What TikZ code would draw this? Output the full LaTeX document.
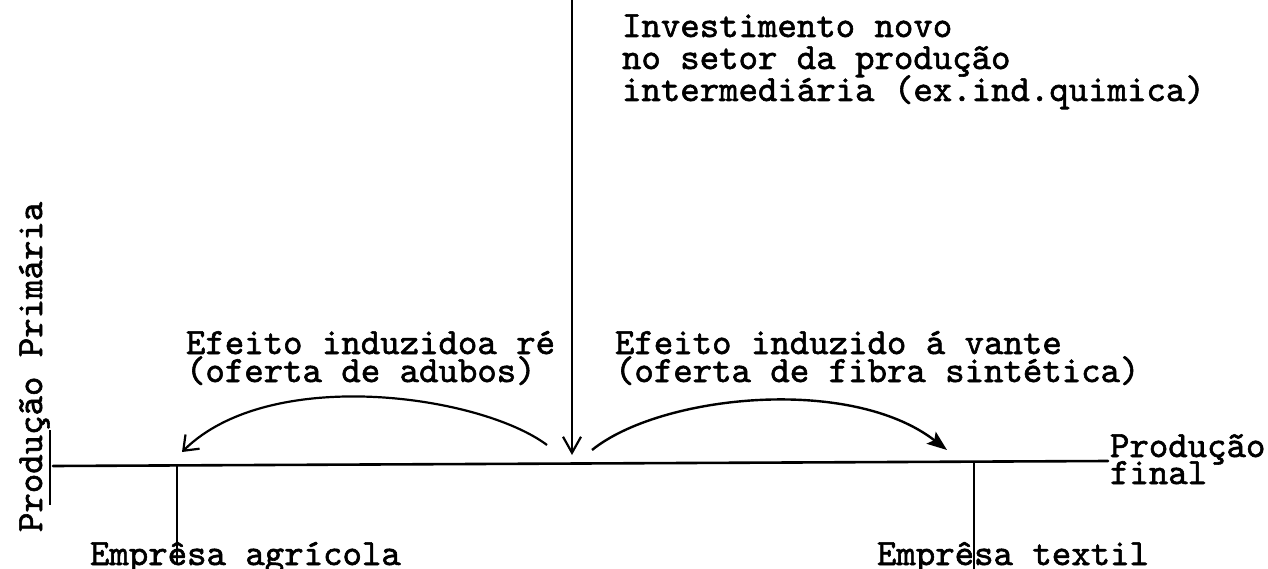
\documentclass[tikz,border=0pt]{standalone}
\usepackage{fontspec}
\newfontfamily\twfont{lmmono10-regular.otf}[FakeBold=1.6]
\usetikzlibrary{arrows.meta}
\tikzset{
  tw/.style={font=\twfont\fontsize{37}{37}\selectfont, inner sep=0pt, outer sep=0pt, anchor=base west},
  axisline/.style={line width=2.6pt, line cap=round},
  tickline/.style={line width=1.6pt},
  mainarrow/.style={line width=1.8pt, -{Straight Barb[length=16pt,width=18pt,line width=2.2pt]}},
  backarrow/.style={line width=2.2pt, -{Straight Barb[length=13pt,width=20pt,line width=2.2pt]}},
  fwdarrow/.style={line width=2.4pt, -{Stealth[length=20pt,width=15pt,inset=4pt]}}
}
\begin{document}
\begin{tikzpicture}[x=1pt,y=-1pt]
\useasboundingbox (0,0) rectangle (1268,569);

% texts
\node[tw] (t1) at (622,37) {Investimento novo};
\node[tw] (t2) at (622,69) {no setor da produção};
\node[tw] (t3) at (622,101) {intermediária (ex.ind.quimica)};

\node[tw] (l1) at (186,354) {Efeito induzidoa ré};
\node[tw] (l2) at (186,382) {(oferta de adubos)};
\node[tw] (r1) at (615,354) {Efeito induzido á vante};
\node[tw] (r2) at (615,382) {(oferta de fibra sintética)};

\node[tw] (pf1) at (1110,457) {Produção};
\node[tw] (pf2) at (1110,484) {final};

\node[tw] (ea) at (90,565) {Emprêsa agrícola};
\node[tw] (et) at (877,565) {Emprêsa textil};

\node[tw, rotate=90] (pp) at (42,532) {Produção Primária};

% coordinates
\coordinate (vtop) at (572,0);
\coordinate (vtip) at (572,455);
\coordinate (axL) at (53,466);
\coordinate (axR) at (1108,461);
\coordinate (yb) at (50,430);
\coordinate (ye) at (50,505);
\coordinate (tlA) at (177,466);
\coordinate (tlB) at (177,563);
\coordinate (trA) at (974,462);
\coordinate (trB) at (974,569);
\coordinate (lcS) at (547,445);
\coordinate (lcE) at (182,452);
\coordinate (rcS) at (592,450);
\coordinate (rcE) at (947,450);

% axes
\draw[axisline] (axL) -- (axR);
\draw[tickline] (yb) -- (ye);
\draw[tickline] (tlA) -- (tlB);
\draw[tickline] (trA) -- (trB);

% arrows
\draw[mainarrow] (vtop) -- (vtip);
\draw[backarrow] (lcS) .. controls (480,395) and (270,365) .. (lcE);
\draw[fwdarrow] (rcS) .. controls (660,395) and (850,375) .. (rcE);
\end{tikzpicture}
\end{document}
